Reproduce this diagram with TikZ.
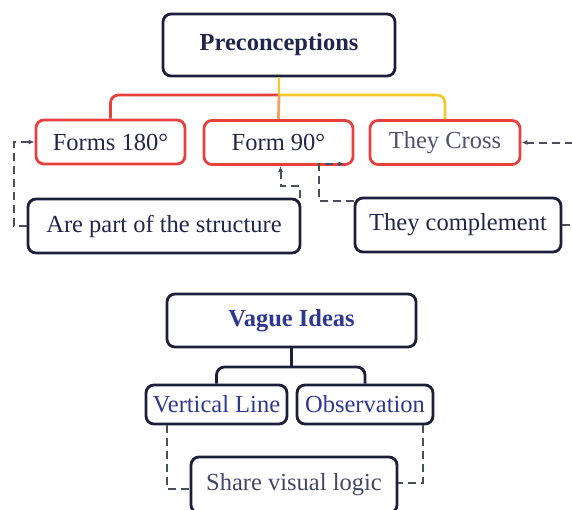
\documentclass[tikz,border=0pt]{standalone}
\usepackage{fontspec}
\setmainfont{Liberation Serif}
\usepackage{xcolor}
\usepackage{tikz}
\usetikzlibrary{arrows.meta, calc}

\definecolor{boxnavy}{HTML}{1C1F3C}
\definecolor{boxred}{HTML}{E8403F}
\definecolor{linkyellow}{HTML}{F2C82A}
\definecolor{linkorange}{HTML}{F5A060}
\definecolor{dashgray}{HTML}{4A4E5E}
\definecolor{textnavy}{HTML}{22264A}
\definecolor{textblue}{HTML}{2F3890}

\begin{document}
\begin{tikzpicture}[x=1pt, y={(0pt,-1pt)},
        box/.style={draw, rounded corners=8pt, line width=2.8pt, inner sep=0pt,
            text=textnavy, font=\fontsize{24.5}{27}\selectfont},
        topbox/.style={box, draw=boxnavy, font=\fontsize{24.5}{27}\selectfont\bfseries},
        subbox/.style={box, draw=boxred, minimum width=149pt, minimum height=44pt},
        leafbox/.style={box, draw=boxnavy},
        link/.style={line width=2.8pt, rounded corners=8pt},
        dashlink/.style={dashed, dash pattern=on 8pt off 5pt, line width=2pt, dashgray}]
        \clip (0,0) rectangle (572,509);
        \useasboundingbox (0,0) rectangle (572,509);

        % Preconceptions
        \node[topbox, minimum width=232pt, minimum height=62pt] (pre) at (279,45) {Preconceptions};
        \node[subbox] (f180) at (110.5,142) {Forms 180°};
        \node[subbox] (f90) at (278.5,142.5) {Form 90°};
        \node[subbox, minimum width=150pt, text=textnavy!80] (cross) at (445,142.5) {They Cross};
        \node[leafbox, minimum width=272pt, minimum height=54pt] (part) at (164,226) {Are part of the structure};
        \node[leafbox, minimum width=206pt, minimum height=54pt] (compl) at (458,225) {They complement};

        \coordinate (hub) at (pre.south |- 0,95);
        \draw[link, boxred] (hub) -| (f180.north);
        \draw[link, linkyellow] (hub) -| (cross.north);
        \draw[link, linkyellow, rounded corners=0pt] (pre.south) -- (hub);
        \draw[link, linkorange, rounded corners=0pt] (hub) -- (f90.north);

        \draw[dashlink, -{Latex[length=6pt, width=5pt]}] (part.west) -- ++(-13,0) |- (f180.west);
        \draw[dashlink, -{Latex[length=6pt, width=5pt]}] ([xshift=-1pt]part.north east) -- ++(0,-12) -| ([xshift=2pt]f90.south);
        \draw[dashlink, -{Latex[length=6pt, width=5pt]}] ([yshift=-4pt]compl.north west) -- ++(-35,0) |- ([xshift=-10pt, yshift=2pt]f90.south east);
        \draw[dashlink, -{Latex[length=6pt, width=5pt]}] (compl.east) -- ++(16,0) |- (cross.east);

        % Vague Ideas
        \node[topbox, text=textblue, minimum width=249pt, minimum height=53pt] (vague) at (291.5,320.5) {Vague Ideas};
        \node[leafbox, text=textblue, minimum width=141pt, minimum height=39pt] (vline) at (216.5,404.5) {Vertical Line};
        \node[leafbox, text=textblue, minimum width=136pt, minimum height=39pt] (obs) at (365,404.5) {Observation};
        \node[leafbox, text=textnavy!85, minimum width=206pt, minimum height=56pt] (share) at (294,485) {Share visual logic};

        \coordinate (hub2) at (vague.south |- 0,367);
        \draw[link, boxnavy, rounded corners=0pt] (vague.south) -- (hub2);
        \draw[link, boxnavy] (vline.north) |- (hub2) -| (obs.north);

        \draw[dashlink] ([xshift=-50pt]vline.south) |- ([yshift=-4pt]share.west);
        \draw[dashlink] ([xshift=58pt]obs.south) |- ([yshift=2pt]share.east);
    \end{tikzpicture}
\end{document}
